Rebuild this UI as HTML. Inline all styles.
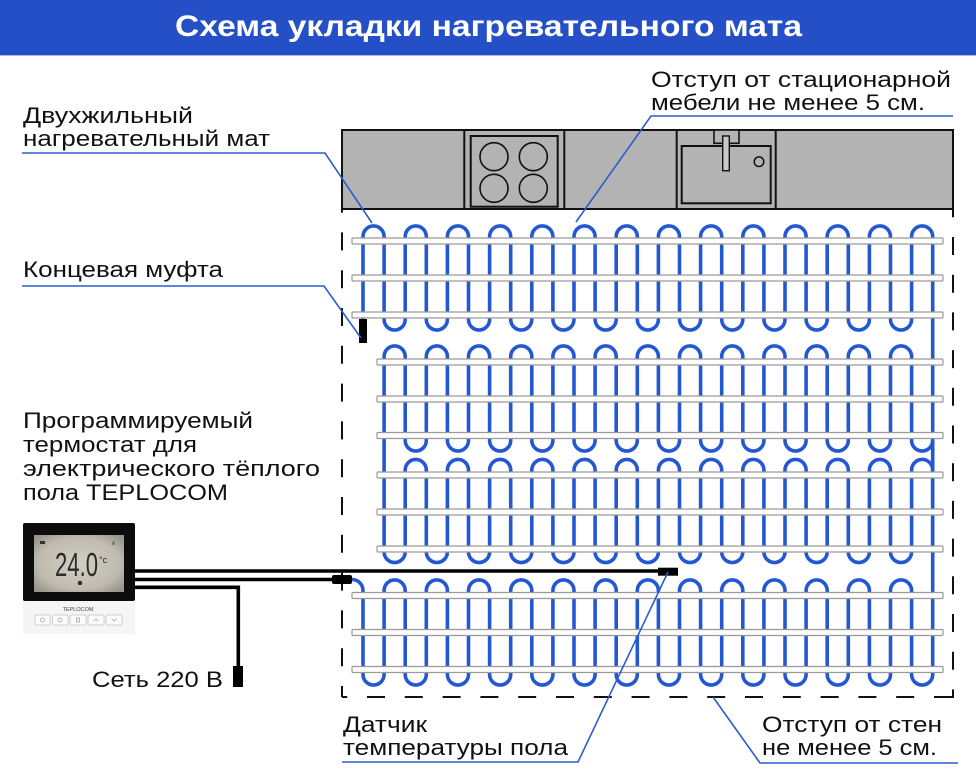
<!DOCTYPE html>
<html>
<head>
<meta charset="utf-8">
<style>
html,body{margin:0;padding:0;background:#fff;}
svg{display:block;}
text{font-family:"Liberation Sans","DejaVu Sans",sans-serif;}
</style>
</head>
<body>
<svg width="976" height="773" viewBox="0 0 976 773" xmlns="http://www.w3.org/2000/svg">
  <rect x="0" y="0" width="976" height="773" fill="#fff"/>
  <!-- Header -->
  <rect x="0" y="0" width="976" height="55" fill="#244fc6"/>
  <line x1="0" y1="55.5" x2="976" y2="55.5" stroke="#a9b8e6" stroke-width="1"/>
  <text x="175" y="36" font-size="29.5" font-weight="bold" fill="#fff" textLength="627" lengthAdjust="spacingAndGlyphs">Схема укладки нагревательного мата</text>

  <!-- Counter -->
  <rect x="342" y="130" width="611" height="79" fill="#b3b3b3" stroke="#111" stroke-width="2"/>
  <line x1="464.3" y1="130" x2="464.3" y2="209" stroke="#111" stroke-width="2"/>
  <line x1="564.3" y1="130" x2="564.3" y2="209" stroke="#111" stroke-width="2"/>
  <rect x="470.7" y="136" width="87" height="70.7" fill="#b3b3b3" stroke="#111" stroke-width="2"/>
  <circle cx="494" cy="156.7" r="14" fill="none" stroke="#111" stroke-width="1.6"/>
  <circle cx="533.3" cy="156.7" r="14" fill="none" stroke="#111" stroke-width="1.6"/>
  <circle cx="494" cy="188.3" r="14" fill="none" stroke="#111" stroke-width="1.6"/>
  <circle cx="533.3" cy="188.3" r="14" fill="none" stroke="#111" stroke-width="1.6"/>
  <line x1="676.7" y1="130" x2="676.7" y2="209" stroke="#111" stroke-width="2"/>
  <line x1="775.7" y1="130" x2="775.7" y2="209" stroke="#111" stroke-width="2"/>
  <rect x="681.7" y="146" width="89" height="57.3" fill="#b3b3b3" stroke="#111" stroke-width="2"/>
  <rect x="714" y="130" width="25" height="13.3" fill="#b3b3b3" stroke="#111" stroke-width="1.6"/>
  <rect x="722.7" y="136" width="6.6" height="34.7" fill="#c8c8c8" stroke="#111" stroke-width="1.4"/>
  <circle cx="759" cy="161.7" r="4.8" fill="none" stroke="#111" stroke-width="1.5"/>

  <!-- Dashed boundary -->
  <line x1="342" y1="209" x2="342" y2="697" stroke="#111" stroke-width="2" stroke-dasharray="18 19.8" stroke-dashoffset="14.4"/>
  <line x1="342" y1="697" x2="953" y2="697" stroke="#111" stroke-width="2" stroke-dasharray="18 19.8" stroke-dashoffset="12.8"/>
  <line x1="953" y1="209" x2="953" y2="698" stroke="#111" stroke-width="2" stroke-dasharray="18 19.7" stroke-dashoffset="9.7"/>

  <!-- Heating cable -->
  <g fill="none" stroke="#2458d3" stroke-width="3.6" stroke-linecap="butt">
    <path d="M363 320 V236.5
      a10.55 10.55 0 0 1 21.1 0 v83 a10.55 10.55 0 0 0 21.1 0 v-83
      a10.55 10.55 0 0 1 21.1 0 v83 a10.55 10.55 0 0 0 21.1 0 v-83
      a10.55 10.55 0 0 1 21.1 0 v83 a10.55 10.55 0 0 0 21.1 0 v-83
      a10.55 10.55 0 0 1 21.1 0 v83 a10.55 10.55 0 0 0 21.1 0 v-83
      a10.55 10.55 0 0 1 21.1 0 v83 a10.55 10.55 0 0 0 21.1 0 v-83
      a10.55 10.55 0 0 1 21.1 0 v83 a10.55 10.55 0 0 0 21.1 0 v-83
      a10.55 10.55 0 0 1 21.1 0 v83 a10.55 10.55 0 0 0 21.1 0 v-83
      a10.55 10.55 0 0 1 21.1 0 v83 a10.55 10.55 0 0 0 21.1 0 v-83
      a10.55 10.55 0 0 1 21.1 0 v83 a10.55 10.55 0 0 0 21.1 0 v-83
      a10.55 10.55 0 0 1 21.1 0 v83 a10.55 10.55 0 0 0 21.1 0 v-83
      a10.55 10.55 0 0 1 21.1 0 v83 a10.55 10.55 0 0 0 21.1 0 v-83
      a10.55 10.55 0 0 1 21.1 0 v83 a10.55 10.55 0 0 0 21.1 0 v-83
      a10.55 10.55 0 0 1 21.1 0 v83 a10.55 10.55 0 0 0 21.1 0 v-83
      a10.55 10.55 0 0 1 21.1 0 V674.5"/>
    <path d="M384.1 552 V356.5
      a10.55 10.55 0 0 1 21.1 0 v84 a10.55 10.55 0 0 0 21.1 0 v-84
      a10.55 10.55 0 0 1 21.1 0 v84 a10.55 10.55 0 0 0 21.1 0 v-84
      a10.55 10.55 0 0 1 21.1 0 v84 a10.55 10.55 0 0 0 21.1 0 v-84
      a10.55 10.55 0 0 1 21.1 0 v84 a10.55 10.55 0 0 0 21.1 0 v-84
      a10.55 10.55 0 0 1 21.1 0 v84 a10.55 10.55 0 0 0 21.1 0 v-84
      a10.55 10.55 0 0 1 21.1 0 v84 a10.55 10.55 0 0 0 21.1 0 v-84
      a10.55 10.55 0 0 1 21.1 0 v84 a10.55 10.55 0 0 0 21.1 0 v-84
      a10.55 10.55 0 0 1 21.1 0 v84 a10.55 10.55 0 0 0 21.1 0 v-84
      a10.55 10.55 0 0 1 21.1 0 v84 a10.55 10.55 0 0 0 21.1 0 v-84
      a10.55 10.55 0 0 1 21.1 0 v84 a10.55 10.55 0 0 0 21.1 0 v-84
      a10.55 10.55 0 0 1 21.1 0 v84 a10.55 10.55 0 0 0 21.1 0 v-84
      a10.55 10.55 0 0 1 21.1 0 v84 a10.55 10.55 0 0 0 21.1 0 v-84
      a10.55 10.55 0 0 1 21.1 0 v84 a10.55 10.55 0 0 0 21.1 0"/>
    <path d="M384.1 552
      a10.55 10.55 0 0 0 21.1 0 v-82 a10.55 10.55 0 0 1 21.1 0 v82
      a10.55 10.55 0 0 0 21.1 0 v-82 a10.55 10.55 0 0 1 21.1 0 v82
      a10.55 10.55 0 0 0 21.1 0 v-82 a10.55 10.55 0 0 1 21.1 0 v82
      a10.55 10.55 0 0 0 21.1 0 v-82 a10.55 10.55 0 0 1 21.1 0 v82
      a10.55 10.55 0 0 0 21.1 0 v-82 a10.55 10.55 0 0 1 21.1 0 v82
      a10.55 10.55 0 0 0 21.1 0 v-82 a10.55 10.55 0 0 1 21.1 0 v82
      a10.55 10.55 0 0 0 21.1 0 v-82 a10.55 10.55 0 0 1 21.1 0 v82
      a10.55 10.55 0 0 0 21.1 0 v-82 a10.55 10.55 0 0 1 21.1 0 v82
      a10.55 10.55 0 0 0 21.1 0 v-82 a10.55 10.55 0 0 1 21.1 0 v82
      a10.55 10.55 0 0 0 21.1 0 v-82 a10.55 10.55 0 0 1 21.1 0 v82
      a10.55 10.55 0 0 0 21.1 0 v-82 a10.55 10.55 0 0 1 21.1 0 v82
      a10.55 10.55 0 0 0 21.1 0 v-82 a10.55 10.55 0 0 1 21.1 0 v82
      a10.55 10.55 0 0 0 21.1 0 v-82 a10.55 10.55 0 0 1 21.1 0 v82"/>
    <path d="M350 579.5 H352 a11 11 0 0 1 11 11 V674.5
      a10.55 10.55 0 0 0 21.1 0 v-84 a10.55 10.55 0 0 1 21.1 0 v84
      a10.55 10.55 0 0 0 21.1 0 v-84 a10.55 10.55 0 0 1 21.1 0 v84
      a10.55 10.55 0 0 0 21.1 0 v-84 a10.55 10.55 0 0 1 21.1 0 v84
      a10.55 10.55 0 0 0 21.1 0 v-84 a10.55 10.55 0 0 1 21.1 0 v84
      a10.55 10.55 0 0 0 21.1 0 v-84 a10.55 10.55 0 0 1 21.1 0 v84
      a10.55 10.55 0 0 0 21.1 0 v-84 a10.55 10.55 0 0 1 21.1 0 v84
      a10.55 10.55 0 0 0 21.1 0 v-84 a10.55 10.55 0 0 1 21.1 0 v84
      a10.55 10.55 0 0 0 21.1 0 v-84 a10.55 10.55 0 0 1 21.1 0 v84
      a10.55 10.55 0 0 0 21.1 0 v-84 a10.55 10.55 0 0 1 21.1 0 v84
      a10.55 10.55 0 0 0 21.1 0 v-84 a10.55 10.55 0 0 1 21.1 0 v84
      a10.55 10.55 0 0 0 21.1 0 v-84 a10.55 10.55 0 0 1 21.1 0 v84
      a10.55 10.55 0 0 0 21.1 0 v-84 a10.55 10.55 0 0 1 21.1 0 v84
      a10.55 10.55 0 0 0 21.1 0 v-84 a10.55 10.55 0 0 1 21.1 0 v84
      a10.55 10.55 0 0 0 21.1 0"/>
  </g>

  <!-- Mesh straps -->
  <g fill="#fdfdfd" stroke="#9a9a9a" stroke-width="1.2">
    <rect x="352" y="238" width="591" height="6" rx="1"/>
    <rect x="352" y="275" width="591" height="6" rx="1"/>
    <rect x="352" y="312" width="591" height="6" rx="1"/>
    <rect x="377" y="359" width="566" height="6" rx="1"/>
    <rect x="377" y="396" width="566" height="6" rx="1"/>
    <rect x="377" y="432.5" width="566" height="6" rx="1"/>
    <rect x="377" y="472" width="566" height="6" rx="1"/>
    <rect x="377" y="509" width="566" height="6" rx="1"/>
    <rect x="377" y="546" width="566" height="6" rx="1"/>
    <rect x="352" y="592.5" width="591" height="6" rx="1"/>
    <rect x="352" y="629.5" width="591" height="6" rx="1"/>
    <rect x="352" y="666.5" width="591" height="6" rx="1"/>
  </g>

  <!-- End sleeve -->
  <rect x="359" y="319" width="8" height="24" fill="#000"/>

  <!-- Thermostat wires -->
  <g stroke="#000" fill="none" stroke-width="3.6">
    <line x1="133" y1="571" x2="670" y2="571"/>
    <line x1="133" y1="579.5" x2="340" y2="579.5"/>
    <path d="M133 587.3 H238.3 V672"/>
  </g>
  <rect x="332" y="575" width="20" height="9" rx="2" fill="#000"/>
  <rect x="658" y="567.7" width="20" height="8" fill="#000"/>
  <rect x="233" y="666" width="10" height="21" fill="#000"/>

  <!-- Thermostat -->
  <defs>
    <radialGradient id="lcd" cx="50%" cy="50%" r="65%">
      <stop offset="0" stop-color="#d2cec2"/>
      <stop offset="0.7" stop-color="#bfbbaf"/>
      <stop offset="1" stop-color="#97948a"/>
    </radialGradient>
  </defs>
  <rect x="23" y="598" width="112" height="36" fill="#f5f5f5"/>
  <rect x="23" y="523" width="112" height="78" rx="2" fill="#0c0c0c"/>
  <rect x="34" y="535" width="90" height="57" fill="url(#lcd)"/>
  <rect x="40" y="541" width="5" height="3" fill="#333"/>
  <path d="M112 545 l2 -4 M114 545 v-3" stroke="#555" stroke-width="0.8"/>
  <text x="55" y="576" font-size="33" fill="#2a2a2a" textLength="43" lengthAdjust="spacingAndGlyphs">24.0</text>
  <text x="99" y="563" font-size="9" fill="#2a2a2a">°c</text>
  <circle cx="80" cy="583" r="2.2" fill="#2a2a2a"/>
  <text x="78" y="611" font-size="5.5" fill="#444" text-anchor="middle">TEPLOCOM</text>
  <g fill="#fbfbfb" stroke="#c4c4c4" stroke-width="0.8">
    <rect x="35" y="615" width="15" height="10" rx="1.5"/>
    <rect x="52.5" y="615" width="15.5" height="10" rx="1.5"/>
    <rect x="70" y="615" width="16" height="10" rx="1.5"/>
    <rect x="88" y="615" width="16" height="10" rx="1.5"/>
    <rect x="106" y="615" width="16" height="10" rx="1.5"/>
  </g>
  <g fill="none" stroke="#999" stroke-width="0.7">
    <circle cx="42.5" cy="620" r="2"/>
    <circle cx="60" cy="620" r="2"/>
    <rect x="76.5" y="618" width="3" height="4"/>
    <path d="M93.5 621.5 l2.5 -2.5 l2.5 2.5"/>
    <path d="M111.5 618.5 l2.5 2.5 l2.5 -2.5"/>
  </g>

  <!-- Leader lines -->
  <g fill="none" stroke="#2d5ccf" stroke-width="1.6">
    <polyline points="22,153 325,153 372,223"/>
    <polyline points="953,116 651,116 576,222"/>
    <polyline points="22,286 324,286 361,338"/>
    <polyline points="342,762 578,762 668,572"/>
    <polyline points="958,763 760,763 713,697"/>
  </g>

  <!-- Labels -->
  <g font-size="22" fill="#111">
    <text x="23" y="123" textLength="170" lengthAdjust="spacingAndGlyphs">Двухжильный</text>
    <text x="23" y="146" textLength="247" lengthAdjust="spacingAndGlyphs">нагревательный мат</text>
    <text x="651" y="87" textLength="300" lengthAdjust="spacingAndGlyphs">Отступ от стационарной</text>
    <text x="651" y="110" textLength="274" lengthAdjust="spacingAndGlyphs">мебели не менее 5 см.</text>
    <text x="23" y="277" textLength="200" lengthAdjust="spacingAndGlyphs">Концевая муфта</text>
    <text x="23" y="428" textLength="230" lengthAdjust="spacingAndGlyphs">Программируемый</text>
    <text x="23" y="452" textLength="174" lengthAdjust="spacingAndGlyphs">термостат для</text>
    <text x="23" y="476" textLength="297" lengthAdjust="spacingAndGlyphs">электрического тёплого</text>
    <text x="23" y="500" textLength="205" lengthAdjust="spacingAndGlyphs">пола TEPLOCOM</text>
    <text x="92" y="687" textLength="131" lengthAdjust="spacingAndGlyphs">Сеть 220 В</text>
    <text x="343" y="732" textLength="84" lengthAdjust="spacingAndGlyphs">Датчик</text>
    <text x="343" y="755" textLength="225" lengthAdjust="spacingAndGlyphs">температуры пола</text>
    <text x="762" y="732" textLength="180" lengthAdjust="spacingAndGlyphs">Отступ от стен</text>
    <text x="762" y="755" textLength="175" lengthAdjust="spacingAndGlyphs">не менее 5 см.</text>
  </g>
</svg>
</body>
</html>
